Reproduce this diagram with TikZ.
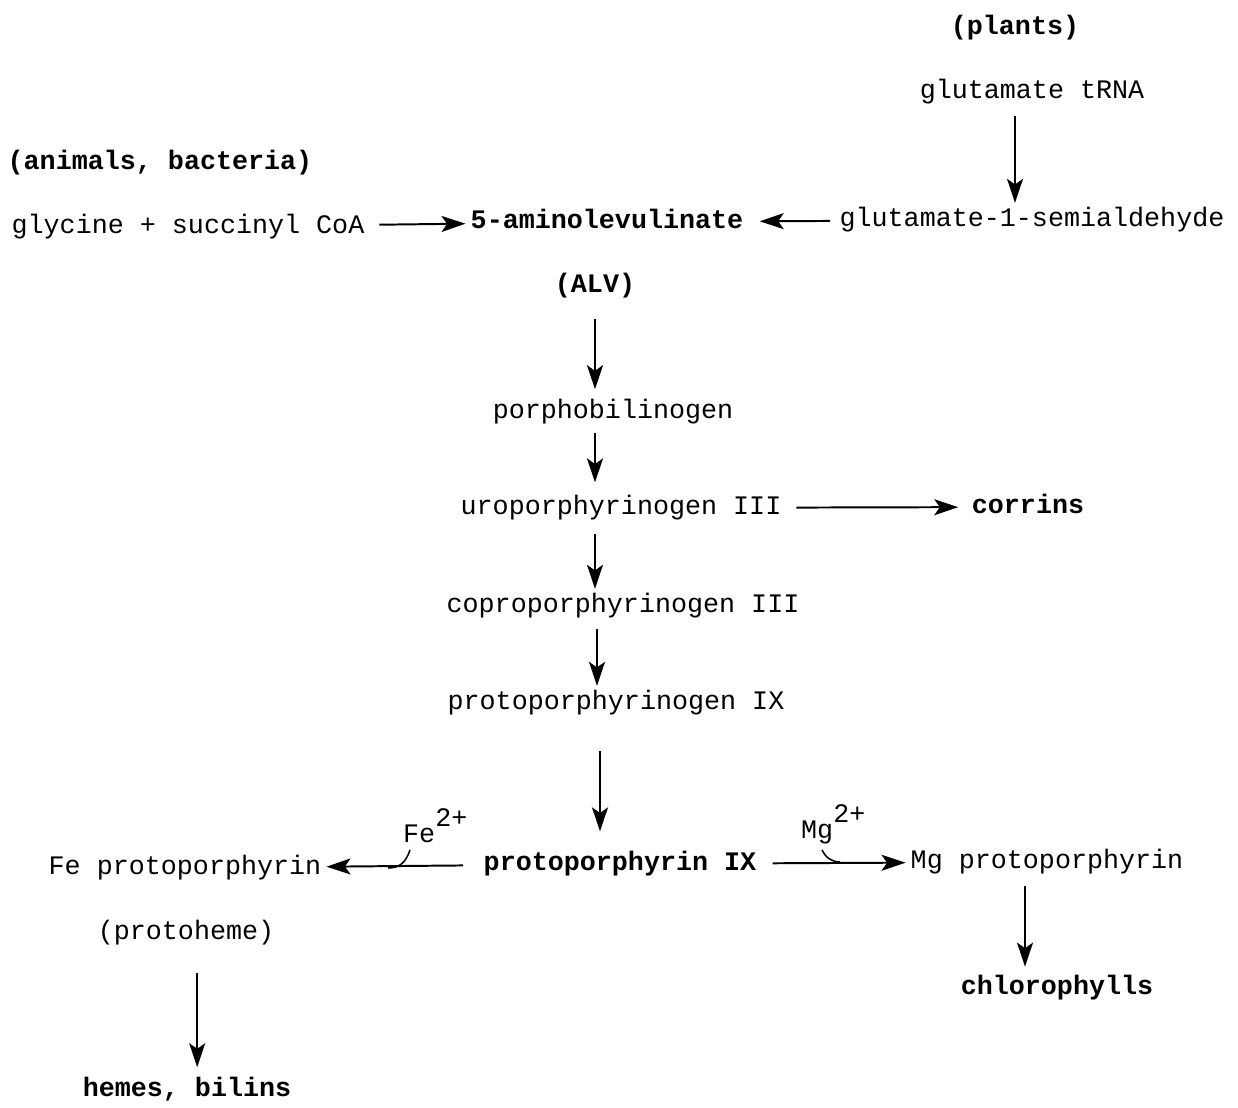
\documentclass[tikz,border=0pt]{standalone}
\usepackage{fontspec}
\setmainfont{Liberation Mono}
\usetikzlibrary{arrows.meta}

\begin{document}
\begin{tikzpicture}[x=0.025cm,y=-0.025cm,line width=1.4pt,
    rxn/.style={-{Stealth[length=6mm,width=4mm,inset=1.4mm]}},
    cpd/.style={font=\fontsize{19}{22}\selectfont,text height=13pt,text depth=4pt,inner sep=3pt},
    key/.style={cpd,font=\fontsize{19}{22}\selectfont\bfseries},
    ion/.style={font=\fontsize{19}{22}\selectfont,inner sep=3pt,anchor=base west}]
  \useasboundingbox (0,0) rectangle (1238,1108);
  \node[key] (plants) at (1015,28) {(plants)};
  \node[cpd] (trna) at (1032,92) {glutamate tRNA};
  \node[key] (anim) at (160,163) {(animals, bacteria)};
  \node[cpd] (gly) at (188,227) {glycine + succinyl CoA};
  \node[key] (ala) at (607,222) {5-aminolevulinate};
  \node[cpd] (gsa) at (1032,220) {glutamate-1-semialdehyde};
  \node[key] (alv) at (595,286) {(ALV)};
  \node[cpd] (pbg) at (613,412) {porphobilinogen};
  \node[cpd] (uro) at (621,508) {uroporphyrinogen III};
  \node[key] (corr) at (1028,507) {corrins};
  \node[cpd] (copro) at (623,606) {coproporphyrinogen III};
  \node[cpd] (protogen) at (616,703) {protoporphyrinogen IX};
  \node[key] (pp) at (620,864) {protoporphyrin IX};
  \node[cpd] (fe) at (185,868) {Fe protoporphyrin};
  \node[cpd] (heme) at (186,933) {(protoheme)};
  \node[key] (hb) at (187,1090) {hemes, bilins};
  \node[cpd] (mg) at (1047,862) {Mg protoporphyrin};
  \node[key] (chl) at (1057,988) {chlorophylls};
  \node[ion] (fe2) at (398,842) {Fe\raisebox{11pt}{2+}};
  \node[ion] (mg2) at (796,838) {Mg\raisebox{11pt}{2+}};
  \coordinate (fetop) at (410,850);
  \coordinate (fejoin) at (388,868);
  \coordinate (mgtop) at (822,850);
  \coordinate (mgjoin) at (840,862);

  \draw[rxn,shorten <=5pt] (trna.south -| plants) -- (gsa.north -| plants);
  \draw[rxn,shorten <=7pt] (gly) -- (ala);
  \draw[rxn,shorten <=3pt,shorten >=8pt] (gsa) -- (ala);
  \draw[rxn,shorten <=11pt,shorten >=4pt] (alv.south) -- (alv.south |- pbg.north);
  \draw[rxn,shorten <=3pt,shorten >=6pt] (pbg.south -| alv) -- (uro.north -| alv);
  \draw[rxn,shorten <=6pt] ([xshift=-0.65cm]uro.south) -- ([xshift=-0.65cm]uro.south |- copro.north);
  \draw[rxn,shorten <=4pt] ([xshift=-0.65cm]copro.south) -- ([xshift=-0.65cm]copro.south |- protogen.north);
  \draw[rxn,shorten <=22pt,shorten >=11pt] ([xshift=-0.4cm]protogen.south) -- ([xshift=-0.4cm]protogen.south |- pp.north);
  \draw[rxn,shorten <=7pt,shorten >=6pt] (uro) -- (corr);
  \draw[rxn,shorten <=11pt] (pp) -- (fe);
  \draw[rxn,shorten <=8pt] (pp) -- (mg);
  \draw[rxn,shorten <=16pt,shorten >=4pt] ([xshift=0.28cm]heme.south) -- ([xshift=0.28cm]heme.south |- hb.north);
  \draw[rxn,shorten <=5pt,shorten >=3pt] ([xshift=-0.55cm]mg.south) -- ([xshift=-0.55cm]mg.south |- chl.north);
  \draw[line width=1.1pt] (fetop) .. controls (406,862) and (400,868) .. (fejoin);
  \draw[line width=1.1pt] (mgtop) .. controls (826,858) and (832,862) .. (mgjoin);
\end{tikzpicture}
\end{document}
